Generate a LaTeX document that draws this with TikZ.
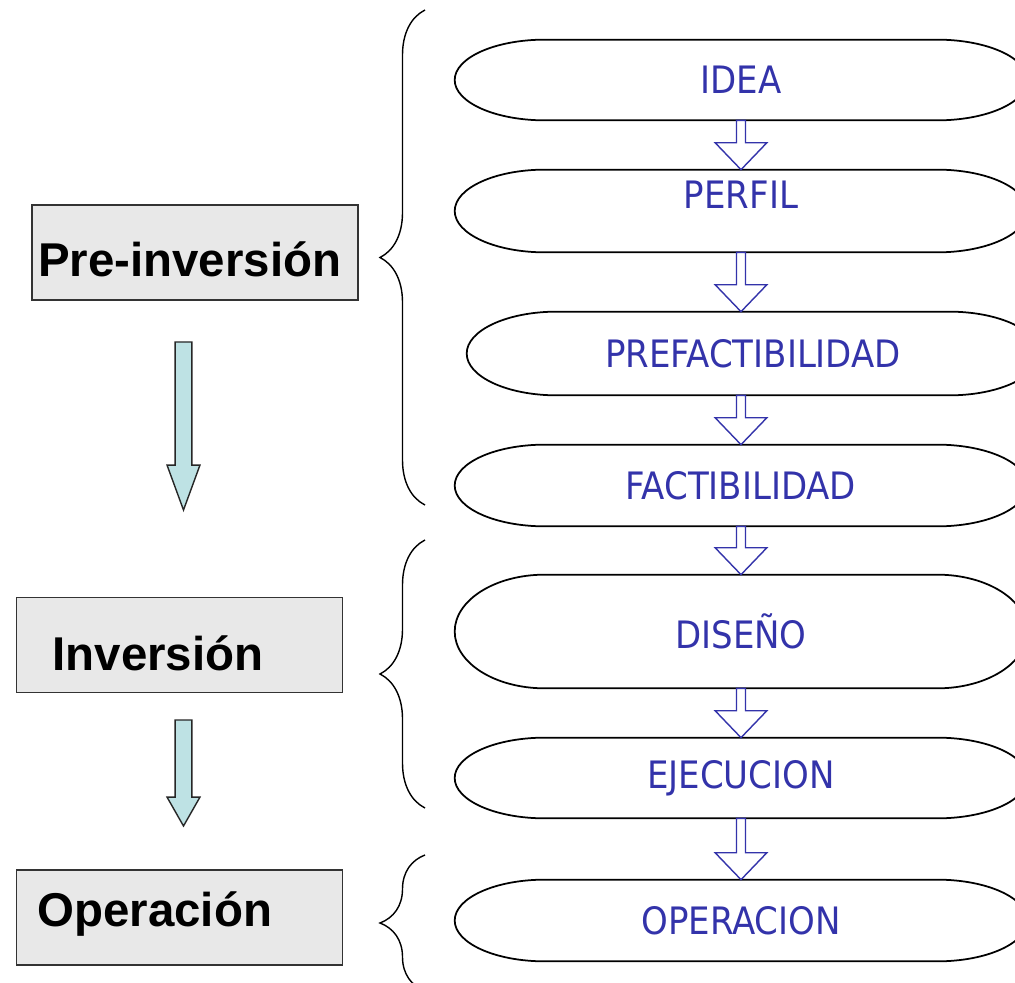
\documentclass[tikz,border=0pt]{standalone}
\usepackage{fontspec}
\newfontfamily\phasefont{Liberation Sans}
\newfontfamily\stagefont{DejaVu Sans Condensed}
\usetikzlibrary{calc,decorations.pathreplacing}
\definecolor{stageblue}{RGB}{51,51,170}
\definecolor{phasegray}{RGB}{232,232,232}
\definecolor{arrowteal}{RGB}{190,226,228}
\tikzset{
  blk/.style n args={3}{to path={let \p1=(\tikztostart), \p2=(\tikztotarget) in
    (\x1-#1,\y1) -- (\x1-#1,\y2+#3) -- (\x1-#2,\y2+#3) -- (\x1,\y2) -- (\x1+#2,\y2+#3) -- (\x1+#1,\y2+#3) -- (\x1+#1,\y1) -- cycle}},
}
\begin{document}
\begin{tikzpicture}[x=0.02cm, y=-0.02cm,
  phase/.style={draw=black!80, line width=1.1pt, fill=phasegray, minimum height=1.9cm, align=left, font=\phasefont\fontsize{27}{32}\selectfont\bfseries},
  stage/.style={minimum width=11.44cm, text=stageblue, font=\stagefont\fontsize{21.5}{26}\selectfont},
  outline/.style={line width=1pt},
  bluearrow/.style={draw=stageblue, fill=white, line width=0.8pt, blk={2.55pt}{14.7pt}{15.3pt}},
  tealarrow/.style={draw=black!85, fill=arrowteal, line width=0.8pt},
  curly/.style={decorate, decoration={brace, amplitude=0.9cm}, line width=0.8pt}]
\useasboundingbox (0,0) rectangle (1015,983);
% fases
\node [phase, inner xsep=0.12cm, text width=6.28cm] (pre) at (195,252.5) {\raisebox{-0.14cm}[\height][\depth]{Pre-inversión}};
\node [phase, inner xsep=0.72cm, text width=5.08cm] (inv) at (179.5,645) {\raisebox{-0.16cm}[\height][\depth]{Inversión}};
\node [phase, inner xsep=0.42cm, text width=5.68cm] (ope) at (179.5,917.5) {\raisebox{0.06cm}[\height][\depth]{Operación}};
\coordinate (down1a) at (183.5,342);
\coordinate (down1b) at (183.5,510);
\coordinate (down2a) at (183.5,720);
\coordinate (down2b) at (183.5,826);
\draw [tealarrow, blk={4.8pt}{9.35pt}{25.5pt}] (down1a) to (down1b);
\draw [tealarrow, blk={4.8pt}{9.35pt}{16.4pt}] (down2a) to (down2b);
% llaves
\draw [curly] (425,505) -- (425,10);
\draw [curly] (425,808) -- (425,540);
\draw [curly] (425,991) -- (425,855);
% etapas
\node [stage, minimum height=1.6cm] (idea) at (741,80) {IDEA};
\node [stage, minimum height=1.64cm, text depth=0.64cm] (perfil) at (741,211) {PERFIL};
\node [stage, minimum height=1.66cm] (prefact) at (753,353.5) {PREFACTIBILIDAD};
\node [stage, minimum height=1.62cm] (fact) at (741,485.5) {FACTIBILIDAD};
\node [stage, minimum height=2.26cm] (diseno) at (741,631.5) {DISEÑO};
\node [stage, minimum height=1.6cm] (ejec) at (741,778) {EJECUCION};
\node [stage, minimum height=1.62cm] (oper) at (741,920.5) {OPERACION};
\foreach \s in {idea,perfil,prefact,fact,diseno,ejec,oper}
  \draw [outline] let \p1=(\s.north west), \p2=(\s.south east), \n1={(\y1-\y2)/2} in
    (\x1+1.8cm,\y1) -- (\x2-1.8cm,\y1) arc[start angle=90, end angle=-90, x radius=1.8cm, y radius=\n1]
    -- (\x1+1.8cm,\y2) arc[start angle=270, end angle=90, x radius=1.8cm, y radius=\n1] -- cycle;
\draw [bluearrow] (idea.south) to (perfil.north);
\draw [bluearrow] (perfil.south) to (prefact.north);
\draw [bluearrow] (fact.north |- prefact.south) to (fact.north);
\draw [bluearrow] (fact.south) to (diseno.north);
\draw [bluearrow] (diseno.south) to (ejec.north);
\draw [bluearrow] (ejec.south) to (oper.north);
\end{tikzpicture}
\end{document}
